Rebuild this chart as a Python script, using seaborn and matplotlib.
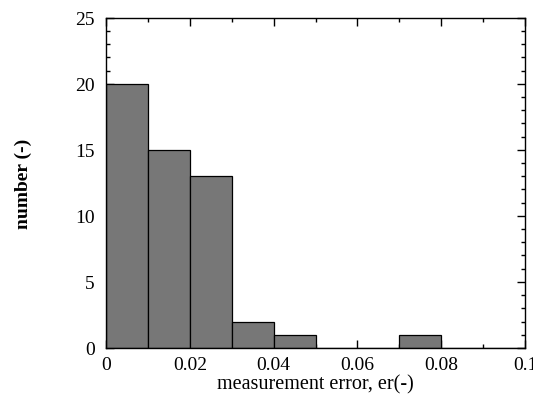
import numpy as np
import pandas as pd
import matplotlib
matplotlib.use("Agg")
import matplotlib.pyplot as plt
import seaborn as sns
from matplotlib.ticker import MultipleLocator

sns.set_style("ticks")
plt.rcParams["font.family"] = ["Liberation Serif", "DejaVu Serif"]
plt.rcParams["text.color"] = "black"
plt.rcParams["axes.labelcolor"] = "black"
plt.rcParams["xtick.color"] = "black"
plt.rcParams["ytick.color"] = "black"

# histogram: bin centres and counts
bin_centers = [0.005, 0.015, 0.025, 0.035, 0.045, 0.055, 0.065, 0.075, 0.085, 0.095]
counts = [20, 15, 13, 2, 1, 0, 0, 1, 0, 0]
bin_edges = [0.0, 0.01, 0.02, 0.03, 0.04, 0.05, 0.06, 0.07, 0.08, 0.09, 0.1]
x_ticks = [0, 0.02, 0.04, 0.06, 0.08, 0.1]
x_tick_labels = ["0", "0.02", "0.04", "0.06", "0.08", "0.1"]

df = pd.DataFrame({"er": bin_centers, "n": counts})

fig = plt.figure(figsize=(5.33, 4.10), dpi=100)
ax = fig.add_axes([0.199, 0.149, 0.786, 0.805])

sns.histplot(data=df, x="er", weights="n", bins=bin_edges, ax=ax,
             color="#777777", edgecolor="black", linewidth=0.9, alpha=1.0)

ax.set_xlim(0, 0.1)
ax.set_ylim(0, 25)
ax.set_xticks(x_ticks)
ax.set_xticklabels(x_tick_labels)
ax.xaxis.set_minor_locator(MultipleLocator(0.01))
ax.yaxis.set_major_locator(MultipleLocator(5))
ax.yaxis.set_minor_locator(MultipleLocator(1))

ax.tick_params(which="both", direction="in", top=True, right=True, labelsize=14)
ax.tick_params(which="major", length=6, width=1)
ax.tick_params(axis="y", which="major", pad=8)
ax.tick_params(axis="x", which="major", pad=6)
ax.tick_params(which="minor", length=3, width=1)
for s in ax.spines.values():
    s.set_linewidth(1.0)
    s.set_color("black")

ax.set_xlabel("measurement error, er(-)", fontsize=14.5, labelpad=1)
ax.set_ylabel("number (-)", fontsize=14, fontweight="bold", labelpad=31)

fig.savefig("out.png", dpi=100)
